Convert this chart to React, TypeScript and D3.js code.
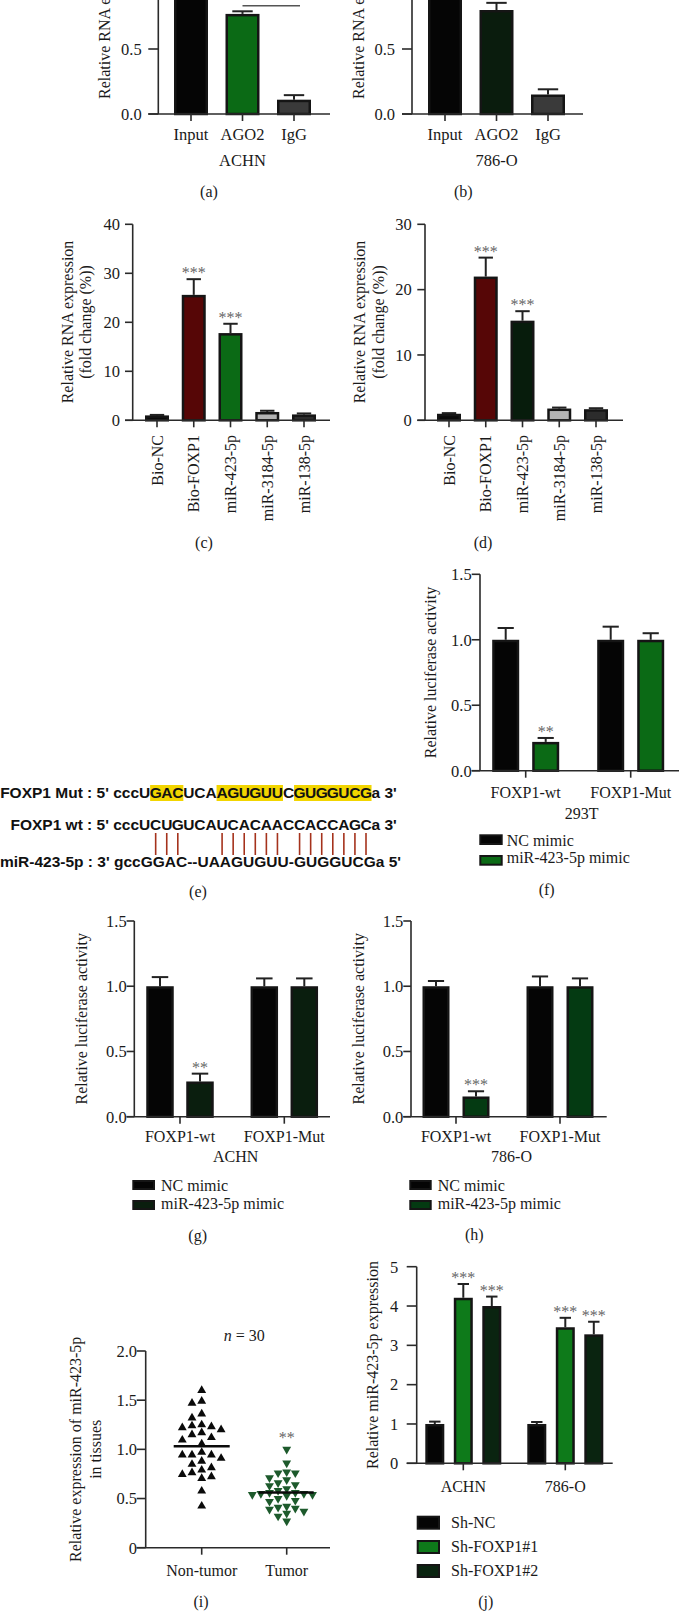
import React from "react";
import * as d3 from "d3";

// ---------------- data ----------------
const abCats = ["Input", "AGO2", "IgG"];
const aVals = [1.0, 0.77, 0.11];
const aErrs = [0.03, 0.02, 0.035];
const bVals = [1.0, 0.8, 0.15];
const bErrs = [0.03, 0.055, 0.04];

const cdCats = ["Bio-NC", "Bio-FOXP1", "miR-423-5p", "miR-3184-5p", "miR-138-5p"];
const cVals = [1.0, 25.6, 17.8, 1.7, 1.2];
const cErrs = [0.1, 3.2, 1.9, 0.25, 0.2];
const cStars = ["", "***", "***", "", ""];
const dVals = [1.0, 22.0, 15.25, 1.8, 1.7];
const dErrs = [0.1, 2.9, 1.45, 0.15, 0.15];
const dStars = ["", "***", "***", "", ""];

const mutSeq = "UGACUCAAGUGUUCGUGGUCG";
const wtSeq = "UCUGUCAUCACAACCACCAGC";
const mirLine = "miR-423-5p : 3' gccGGAC--UAAGUGUU-GUGGUCGa 5'";

const lucGroups = ["FOXP1-wt", "FOXP1-Mut"];
const lucSeries = ["NC mimic", "miR-423-5p mimic"];
const fNC = [1.0, 1.0];
const fNCErr = [0.09, 0.1];
const fMiR = [0.22, 1.0];
const fMiRErr = [0.03, 0.05];
const fStars = ["**", ""];
const gNC = [1.0, 1.0];
const gNCErr = [0.07, 0.06];
const gMiR = [0.27, 1.0];
const gMiRErr = [0.06, 0.06];
const gStars = ["**", ""];
const hNC = [1.0, 1.0];
const hNCErr = [0.04, 0.075];
const hMiR = [0.155, 1.0];
const hMiRErr = [0.04, 0.06];
const hStars = ["***", ""];

const iCats = ["Non-tumor", "Tumor"];
const nonTumor = [1.6, 1.49, 1.47, 1.36, 1.32, 1.24, 1.25, 1.23, 1.22, 1.2, 1.15, 1.17, 1.12, 1.095, 1.055,
  0.943, 0.943, 0.943, 0.97, 0.909, 0.848, 0.88, 0.814, 0.763, 0.79, 0.722, 0.705, 0.746, 0.576, 0.424];
const tumor = [1.0, 0.86, 0.77, 0.76, 0.76, 0.71, 0.69, 0.66, 0.64, 0.63, 0.6, 0.58, 0.56, 0.56, 0.55,
  0.55, 0.54, 0.54, 0.53, 0.5, 0.48, 0.47, 0.42, 0.41, 0.4, 0.39, 0.37, 0.35, 0.32, 0.27];

const jGroups = ["ACHN", "786-O"];
const jSeries = ["Sh-NC", "Sh-FOXP1#1", "Sh-FOXP1#2"];
const jShNC = [1.0, 1.0];
const jShNCErr = [0.06, 0.05];
const jSh1 = [4.21, 3.46];
const jSh1Err = [0.35, 0.24];
const jSh2 = [4.0, 3.28];
const jSh2Err = [0.24, 0.32];
const jStars = ["***", "***"];

// ---------------- styles ----------------
const SERIF = "'Liberation Serif','Times New Roman',serif";
const SANS = "'Liberation Sans',Arial,sans-serif";
const INK = "#1a1a1a";
const AX = "#2a2a2a";

type BarD = { cx: number; w: number; v: number; e: number; fill: string; star?: string };

function YAxis({ ax, y, ticks, fmt, tl, lr, top }: any) {
  const y0 = y(0);
  return (
    <g>
      <line x1={ax} x2={ax} y1={y0} y2={top ?? y.range()[1]} stroke={AX} strokeWidth={1.6} />
      {ticks.map((t: number) => (
        <g key={t}>
          <line x1={ax - tl} x2={ax} y1={y(t)} y2={y(t)} stroke={AX} strokeWidth={1.6} />
          <text x={lr} y={y(t) + 5.8} textAnchor="end" fontSize={16.5}>{fmt(t)}</text>
        </g>
      ))}
    </g>
  );
}

function XAxis({ x0, x1, y0, xs }: any) {
  return (
    <g>
      <line x1={x0} x2={x1} y1={y0} y2={y0} stroke={AX} strokeWidth={1.6} />
      {xs.map((x: number, i: number) => (
        <line key={i} x1={x} x2={x} y1={y0} y2={y0 + 7} stroke={AX} strokeWidth={1.6} />
      ))}
    </g>
  );
}

function Bars({ bars, y, sw = 2.5, cap = 0.6 }: { bars: BarD[]; y: any; sw?: number; cap?: number }) {
  const y0 = y(0);
  return (
    <g>
      {bars.map((b, i) => {
        const top = y(b.v);
        const et = y(b.v + b.e);
        return (
          <g key={i}>
            <line x1={b.cx} x2={b.cx} y1={top} y2={et} stroke="#222" strokeWidth={2} />
            <line x1={b.cx - (b.w * cap) / 2} x2={b.cx + (b.w * cap) / 2} y1={et} y2={et} stroke="#222" strokeWidth={2} />
            <rect x={b.cx - b.w / 2 + sw / 2} y={top + sw / 2} width={b.w - sw} height={Math.max(0, y0 - top - sw / 2)}
              fill={b.fill} stroke="#151515" strokeWidth={sw} />
            {b.star ? (
              <text x={b.cx} y={et - 1} textAnchor="middle" fill="#666">{b.star}</text>
            ) : null}
          </g>
        );
      })}
    </g>
  );
}

function VLabel({ x, y, lines, anchor = "middle", gap = 19 }: any) {
  return (
    <g>
      {lines.map((l: string, i: number) => (
        <text key={i} transform={`translate(${x + i * gap},${y}) rotate(-90)`} textAnchor={anchor}>{l}</text>
      ))}
    </g>
  );
}

function Legend({ x, tx, items, ys, tys, w, h }: any) {
  return (
    <g>
      {items.map((it: any, i: number) => (
        <g key={i}>
          <rect x={x + 1} y={ys[i] + 1} width={w - 2} height={h - 2} fill={it.fill} stroke="#151515" strokeWidth={2} />
          <text x={tx} y={tys[i]}>{it.label}</text>
        </g>
      ))}
    </g>
  );
}

function swarm(vals: number[], y: any, cx: number, s: number, h: number) {
  const order = vals.map((_, i) => i).sort((a, b) => vals[b] - vals[a]);
  const placed: { x: number; y: number }[] = [];
  const out: { x: number; y: number }[] = new Array(vals.length);
  for (const i of order) {
    const py = y(vals[i]);
    for (let k = 0; k < 60; k++) {
      const m = Math.ceil(k / 2) * (s / 2);
      const off = k === 0 ? 0 : k % 2 === 1 ? -m : m;
      const px = cx + off;
      const hit = placed.some((p) => Math.abs(p.x - px) < s * 0.98 && Math.abs(p.y - py) < h);
      if (!hit) {
        placed.push({ x: px, y: py });
        out[i] = { x: px, y: py };
        break;
      }
    }
  }
  return out;
}

export default function App() {
  const fmt1 = d3.format(".1f");
  const fmtD = d3.format("d");

  // ---- (a) & (b)
  const yA = d3.scaleLinear().domain([0, 1]).range([114, -16]);
  const xA = d3.scalePoint<string>().domain(abCats).range([191, 294]);
  const xB = d3.scalePoint<string>().domain(abCats).range([445, 548]);
  const abTicks = yA.ticks(2).filter((t) => yA(t) > 0);
  const aCol = ["#050505", "#0b6a15", "#3a3a3a"];
  const bCol = ["#050505", "#0a1c0d", "#3a3a3a"];
  const aBars: BarD[] = abCats.map((c, i) => ({ cx: xA(c)!, w: 34, v: aVals[i], e: aErrs[i], fill: aCol[i] }));
  const bBars: BarD[] = abCats.map((c, i) => ({ cx: xB(c)!, w: 34, v: bVals[i], e: bErrs[i], fill: bCol[i] }));

  // ---- (c) & (d)
  const yC = d3.scaleLinear().domain([0, 40]).range([420.3, 224.3]);
  const yD = d3.scaleLinear().domain([0, 30]).range([420.3, 224.3]);
  const xC = d3.scalePoint<string>().domain(cdCats).range([157, 304]);
  const xD = d3.scalePoint<string>().domain(cdCats).range([449, 596]);
  const cCol = ["#0a0a0a", "#560606", "#0b6a15", "#b4b4b4", "#2c2c2c"];
  const dCol = ["#0a0a0a", "#560606", "#071c0c", "#b4b4b4", "#2c2c2c"];
  const cBars: BarD[] = cdCats.map((c, i) => ({ cx: xC(c)!, w: 24, v: cVals[i], e: cErrs[i], fill: cCol[i], star: cStars[i] }));
  const dBars: BarD[] = cdCats.map((c, i) => ({ cx: xD(c)!, w: 24, v: dVals[i], e: dErrs[i], fill: dCol[i], star: dStars[i] }));

  // ---- (e)
  const charX = d3.scaleLinear().domain([0, wtSeq.length - 1]).range([144.6, 366]);
  const half = (charX(1) - charX(0)) / 2;
  const diffIdx = d3.range(wtSeq.length).filter((i) => mutSeq[i] !== wtSeq[i]);
  const runs: [number, number][] = [];
  diffIdx.forEach((i) => {
    const last = runs[runs.length - 1];
    if (last && last[1] === i - 1) last[1] = i;
    else runs.push([i, i]);
  });
  const seqXs = (s: string) => s.split("").map((_, i) => charX(i).toFixed(2)).join(" ");

  // ---- (f) (g) (h)
  const yF = d3.scaleLinear().domain([0, 1.5]).range([770.7, 574.3]);
  const yG = d3.scaleLinear().domain([0, 1.5]).range([1116.7, 921]);
  const lucTicks = yF.ticks(3);
  const off2 = d3.scalePoint<string>().domain(lucSeries).range([-20, 20]);
  const xF = d3.scalePoint<string>().domain(lucGroups).range([525.7, 630.7]);
  const xG = d3.scalePoint<string>().domain(lucGroups).range([180, 284.3]);
  const xH = d3.scalePoint<string>().domain(lucGroups).range([456, 560]);
  const lucBars = (xs: any, nc: number[], ncE: number[], mi: number[], miE: number[], stars: string[], miCol: string, w: number): BarD[] =>
    lucGroups.flatMap((g, i) => [
      { cx: xs(g)! + off2(lucSeries[0])!, w, v: nc[i], e: ncE[i], fill: "#050505" },
      { cx: xs(g)! + off2(lucSeries[1])!, w, v: mi[i], e: miE[i], fill: miCol, star: stars[i] },
    ]);
  const fCol = "#0b6a15", gCol = "#0a1e0e", hCol = "#043a12";
  const fBars = lucBars(xF, fNC, fNCErr, fMiR, fMiRErr, fStars, fCol, 27);
  const gBars = lucBars(xG, gNC, gNCErr, gMiR, gMiRErr, gStars, gCol, 27.5);
  const hBars = lucBars(xH, hNC, hNCErr, hMiR, hMiRErr, hStars, hCol, 27);
  const midX = (xs: any) => d3.mean(lucGroups, (g) => xs(g)!)! + 3.5;

  // ---- (i)
  const yI = d3.scaleLinear().domain([0, 2]).range([1547.7, 1351]);
  const xI = d3.scalePoint<string>().domain(iCats).range([201.7, 286.7]);
  const tri = d3.symbol(d3.symbolTriangle, 34)()!;
  const ntPts = swarm(nonTumor, yI, xI("Non-tumor")!, 9.7, 7.6);
  const tPts = swarm(tumor, yI, xI("Tumor")!, 8.6, 6.8);
  const ntMean = d3.mean(nonTumor)!;
  const tMean = d3.mean(tumor)!;

  // ---- (j)
  const yJ = d3.scaleLinear().domain([0, 5]).range([1463.3, 1266.7]);
  const xJ = d3.scalePoint<string>().domain(jGroups).range([463.3, 565.3]);
  const off3 = d3.scalePoint<string>().domain(jSeries).range([-28.5, 28.5]);
  const jCol = ["#050505", "#0e7a1a", "#0a2410"];
  const jBars: BarD[] = jGroups.flatMap((g, i) => [
    { cx: xJ(g)! + off3(jSeries[0])!, w: 19, v: jShNC[i], e: jShNCErr[i], fill: jCol[0] },
    { cx: xJ(g)! + off3(jSeries[1])!, w: 19, v: jSh1[i], e: jSh1Err[i], fill: jCol[1], star: jStars[0] },
    { cx: xJ(g)! + off3(jSeries[2])!, w: 19, v: jSh2[i], e: jSh2Err[i], fill: jCol[2], star: jStars[1] },
  ]);

  return (
    <svg width={679} height={1612} viewBox="0 0 679 1612"
      style={{ position: "absolute", left: 0, top: 0, display: "block", background: "#fff" }}
      fontFamily={SERIF} fontSize={16} fill={INK}>
      <rect x={0} y={0} width={679} height={1612} fill="#fff" />

      {/* ===== (a) ===== */}
      <VLabel x={110} y={99} lines={["Relative RNA expression"]} anchor="start" />
      <YAxis ax={158.3} y={yA} ticks={abTicks} fmt={fmt1} tl={10} lr={141.7} top={-5} />
      <Bars bars={aBars} y={yA} />
      <XAxis x0={148.3} x1={330} y0={yA(0)} xs={abCats.map((c) => xA(c))} />
      <line x1={xA("AGO2")!} x2={xA("IgG")! + 6} y1={yA(0.833)} y2={yA(0.833)} stroke="#555" strokeWidth={1.5} />
      <g fontSize={16.5}>
        {abCats.map((c) => <text key={c} x={xA(c)} y={140} textAnchor="middle">{c}</text>)}
        <text x={xA("AGO2")} y={166} textAnchor="middle">ACHN</text>
      </g>
      <text x={209} y={197} textAnchor="middle">(a)</text>

      {/* ===== (b) ===== */}
      <VLabel x={363.8} y={99} lines={["Relative RNA expression"]} anchor="start" />
      <YAxis ax={412} y={yA} ticks={abTicks} fmt={fmt1} tl={10} lr={395} top={-5} />
      <Bars bars={bBars} y={yA} />
      <XAxis x0={402} x1={583} y0={yA(0)} xs={abCats.map((c) => xB(c))} />
      <g fontSize={16.5}>
        {abCats.map((c) => <text key={c} x={xB(c)} y={140} textAnchor="middle">{c}</text>)}
        <text x={xB("AGO2")} y={166} textAnchor="middle">786-O</text>
      </g>
      <text x={463.3} y={197} textAnchor="middle">(b)</text>

      {/* ===== (c) ===== */}
      <VLabel x={72.5} y={322} lines={["Relative RNA expression", "(fold change (%))"]} gap={18} />
      <YAxis ax={132.7} y={yC} ticks={yC.ticks(4)} fmt={fmtD} tl={7.7} lr={120} />
      <Bars bars={cBars} y={yC} />
      <XAxis x0={125} x1={330} y0={yC(0)} xs={cdCats.map((c) => xC(c))} />
      {cdCats.map((c) => (
        <text key={c} transform={`translate(${xC(c)! + 5.5},435) rotate(-90)`} textAnchor="end">{c}</text>
      ))}
      <text x={204} y={548} textAnchor="middle">(c)</text>

      {/* ===== (d) ===== */}
      <VLabel x={364.5} y={322} lines={["Relative RNA expression", "(fold change (%))"]} gap={19} />
      <YAxis ax={425} y={yD} ticks={yD.ticks(3)} fmt={fmtD} tl={7.7} lr={411.7} />
      <Bars bars={dBars} y={yD} />
      <XAxis x0={417.3} x1={623} y0={yD(0)} xs={cdCats.map((c) => xD(c))} />
      {cdCats.map((c) => (
        <text key={c} transform={`translate(${xD(c)! + 5.5},435) rotate(-90)`} textAnchor="end">{c}</text>
      ))}
      <text x={483} y={548} textAnchor="middle">(d)</text>

      {/* ===== (e) ===== */}
      <g fontFamily={SANS} fontWeight="bold" fontSize={15.5} fill="#111">
        {runs.map(([s, e], k) => (
          <rect key={k} x={charX(s) - half} y={785} width={charX(e) - charX(s) + 2 * half} height={16} fill="#f2d500" />
        ))}
        <text y={798}>
          <tspan x={charX(0) - half} textAnchor="end">FOXP1 Mut : 5' ccc</tspan>
          <tspan x={seqXs(mutSeq)} textAnchor="middle">{mutSeq}</tspan>
          <tspan x={charX(mutSeq.length - 1) + half} textAnchor="start">a 3'</tspan>
        </text>
        <text y={829.5}>
          <tspan x={charX(0) - half} textAnchor="end">FOXP1 wt : 5' ccc</tspan>
          <tspan x={seqXs(wtSeq)} textAnchor="middle">{wtSeq}</tspan>
          <tspan x={charX(wtSeq.length - 1) + half} textAnchor="start">a 3'</tspan>
        </text>
        {diffIdx.map((i) => (
          <line key={i} x1={charX(i)} x2={charX(i)} y1={833} y2={855} stroke="#a5321c" strokeWidth={1.6} />
        ))}
        <text x={0} y={867}>{mirLine}</text>
      </g>
      <text x={198} y={897} textAnchor="middle">(e)</text>

      {/* ===== (f) ===== */}
      <VLabel x={435.5} y={672.5} lines={["Relative luciferase activity"]} />
      <YAxis ax={480} y={yF} ticks={lucTicks} fmt={fmt1} tl={8.3} lr={471.7} />
      <Bars bars={fBars} y={yF} />
      <XAxis x0={471.7} x1={679} y0={yF(0)} xs={lucGroups.map((g) => xF(g))} />
      {lucGroups.map((g) => <text key={g} x={xF(g)} y={798} textAnchor="middle">{g}</text>)}
      <text x={midX(xF)} y={819} textAnchor="middle">293T</text>
      <Legend x={479.3} tx={506.7} w={23.4} h={10.7} ys={[834.3, 855]} tys={[846, 863]}
        items={[{ label: lucSeries[0], fill: "#050505" }, { label: lucSeries[1], fill: fCol }]} />
      <text x={546.7} y={895} textAnchor="middle">(f)</text>

      {/* ===== (g) ===== */}
      <VLabel x={86.5} y={1018.8} lines={["Relative luciferase activity"]} />
      <YAxis ax={134.3} y={yG} ticks={lucTicks} fmt={fmt1} tl={7.7} lr={126.7} />
      <Bars bars={gBars} y={yG} />
      <XAxis x0={126.6} x1={330} y0={yG(0)} xs={lucGroups.map((g) => xG(g))} />
      {lucGroups.map((g) => <text key={g} x={xG(g)} y={1142} textAnchor="middle">{g}</text>)}
      <text x={midX(xG)} y={1162} textAnchor="middle">ACHN</text>
      <Legend x={132.3} tx={161} w={22.7} h={10} ys={[1180, 1200]} tys={[1190.5, 1209]}
        items={[{ label: lucSeries[0], fill: "#050505" }, { label: lucSeries[1], fill: gCol }]} />
      <text x={197.7} y={1241} textAnchor="middle">(g)</text>

      {/* ===== (h) ===== */}
      <VLabel x={363.8} y={1018.8} lines={["Relative luciferase activity"]} />
      <YAxis ax={411} y={yG} ticks={lucTicks} fmt={fmt1} tl={7.7} lr={403.3} />
      <Bars bars={hBars} y={yG} />
      <XAxis x0={403.3} x1={606.7} y0={yG(0)} xs={lucGroups.map((g) => xH(g))} />
      {lucGroups.map((g) => <text key={g} x={xH(g)} y={1142} textAnchor="middle">{g}</text>)}
      <text x={midX(xH)} y={1162} textAnchor="middle">786-O</text>
      <Legend x={409.3} tx={437.7} w={22.4} h={10} ys={[1180, 1200]} tys={[1190.5, 1209]}
        items={[{ label: lucSeries[0], fill: "#050505" }, { label: lucSeries[1], fill: hCol }]} />
      <text x={474.3} y={1240} textAnchor="middle">(h)</text>

      {/* ===== (i) ===== */}
      <VLabel x={80.5} y={1449.3} lines={["Relative expression of miR-423-5p", "in tissues"]} gap={20} />
      <YAxis ax={145.7} y={yI} ticks={yI.ticks(4)} fmt={(t: number) => (t === 0 ? "0" : fmt1(t))} tl={9} lr={137} />
      <XAxis x0={136.7} x1={330} y0={yI(0)} xs={iCats.map((c) => xI(c))} />
      {ntPts.map((p, i) => <path key={"n" + i} d={tri} transform={`translate(${p.x},${p.y})`} fill="#0a0a0a" />)}
      {tPts.map((p, i) => <path key={"t" + i} d={tri} transform={`translate(${p.x},${p.y}) rotate(180)`} fill="#1d5a2c" />)}
      <line x1={xI("Non-tumor")! - 28} x2={xI("Non-tumor")! + 28} y1={yI(ntMean)} y2={yI(ntMean)} stroke="#0a0a0a" strokeWidth={2.5} />
      <line x1={xI("Tumor")! - 28} x2={xI("Tumor")! + 27} y1={yI(tMean)} y2={yI(tMean)} stroke="#0a0a0a" strokeWidth={2.5} />
      <text x={xI("Tumor")} y={1443} textAnchor="middle" fill="#666">**</text>
      <text x={244.3} y={1341} textAnchor="middle"><tspan fontStyle="italic">n</tspan> = 30</text>
      {iCats.map((c) => <text key={c} x={xI(c)} y={1576} textAnchor="middle">{c}</text>)}
      <text x={201} y={1607} textAnchor="middle">(i)</text>

      {/* ===== (j) ===== */}
      <VLabel x={378.2} y={1365} lines={["Relative miR-423-5p expression"]} />
      <YAxis ax={416.7} y={yJ} ticks={yJ.ticks(5)} fmt={fmtD} tl={10} lr={398.3} />
      <Bars bars={jBars} y={yJ} />
      <XAxis x0={406.7} x1={612.7} y0={yJ(0)} xs={jGroups.map((g) => xJ(g))} />
      {jGroups.map((g) => <text key={g} x={xJ(g)} y={1492} textAnchor="middle">{g}</text>)}
      <Legend x={416.7} tx={451} w={23.3} h={14} ys={[1515.7, 1540, 1564]} tys={[1527.6, 1552, 1576]}
        items={jSeries.map((s, i) => ({ label: s, fill: jCol[i] }))} />
      <text x={485.7} y={1607} textAnchor="middle">(j)</text>
    </svg>
  );
}
